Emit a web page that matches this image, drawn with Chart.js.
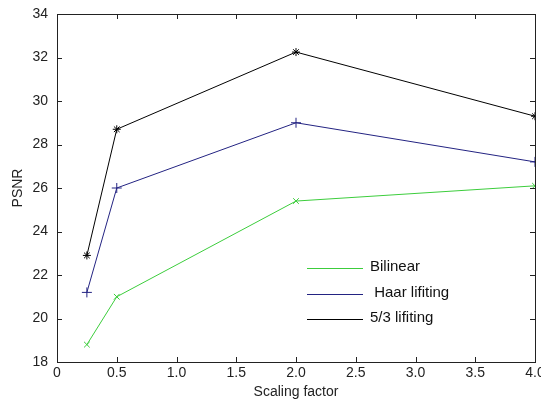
<!DOCTYPE html>
<html>
<head>
<meta charset="utf-8">
<script src="https://cdn.jsdelivr.net/npm/chart.js@4"></script>
<style>
  html, body { margin: 0; padding: 0; background: #fff; }
  #wrap { width: 541px; height: 404px; }
</style>
</head>
<body>
<div id="wrap"><canvas id="psnr-chart" width="541" height="404"></canvas></div>
<script>
// Chart values
const scalingFactors = [0.25, 0.5, 2, 4];
const bilinear = [18.8, 21.0, 25.4, 26.1];
const haarLifting = [21.2, 26.0, 29.0, 27.2];
const lifting53 = [22.9, 28.7, 32.25, 29.3];
const seriesLabels = ['Bilinear', ' Haar lifiting', '5/3 lifiting'];

const FONT = 'Liberation Sans, Arial, sans-serif';

function toPoints(values) {
  return values.map((v, i) => ({ x: scalingFactors[i], y: v }));
}

// Draws the box round the plot and MATLAB-style inward tick marks
const boxPlugin = {
  id: 'box',
  afterDatasetsDraw(chart) {
    const { ctx, chartArea: a, scales } = chart;
    const len = 5;
    ctx.save();
    ctx.strokeStyle = '#222';
    ctx.lineWidth = 1;
    ctx.beginPath();
    scales.x.ticks.forEach(t => {
      const px = Math.round(scales.x.getPixelForValue(t.value)) + 0.5;
      ctx.moveTo(px, a.bottom); ctx.lineTo(px, a.bottom - len);
      ctx.moveTo(px, a.top); ctx.lineTo(px, a.top + len);
    });
    scales.y.ticks.forEach(t => {
      const py = Math.round(scales.y.getPixelForValue(t.value)) + 0.5;
      ctx.moveTo(a.left, py); ctx.lineTo(a.left + len, py);
      ctx.moveTo(a.right, py); ctx.lineTo(a.right - len, py);
    });
    ctx.stroke();
    ctx.strokeRect(Math.round(a.left) + 0.5, Math.round(a.top) + 0.5,
      Math.round(a.right - a.left), Math.round(a.bottom - a.top));
    ctx.restore();
  }
};

// Legend without a frame, placed inside the plot like the original
const legendPlugin = {
  id: 'insideLegend',
  afterDraw(chart) {
    const { ctx, chartArea: a } = chart;
    const x0 = a.left + 250;
    const y0 = a.top + 254;
    const rowH = 25.5;
    ctx.save();
    ctx.font = '15px ' + FONT;
    ctx.textBaseline = 'middle';
    chart.data.datasets.forEach((ds, i) => {
      const y = Math.round(y0 + i * rowH) + 0.5;
      ctx.strokeStyle = ds.borderColor;
      ctx.lineWidth = 1;
      ctx.beginPath();
      ctx.moveTo(x0, y);
      ctx.lineTo(x0 + 56, y);
      ctx.stroke();
      ctx.fillStyle = '#111';
      ctx.fillText(ds.label, x0 + 63, y - 2);
    });
    ctx.restore();
  }
};

document.addEventListener('DOMContentLoaded', () => {
  const ctx = document.getElementById('psnr-chart').getContext('2d');
  new Chart(ctx, {
    type: 'line',
    data: {
      datasets: [
        {
          label: seriesLabels[0],
          data: toPoints(bilinear),
          borderColor: 'rgb(60, 205, 60)',
          backgroundColor: 'rgb(60, 205, 60)',
          pointStyle: 'crossRot',
          pointRadius: 4,
          pointBorderWidth: 1
        },
        {
          label: seriesLabels[1],
          data: toPoints(haarLifting),
          borderColor: 'rgb(35, 35, 130)',
          backgroundColor: 'rgb(35, 35, 130)',
          pointStyle: 'cross',
          pointRadius: 5,
          pointBorderWidth: 1
        },
        {
          label: seriesLabels[2],
          data: toPoints(lifting53),
          borderColor: '#000',
          backgroundColor: '#000',
          pointStyle: 'star',
          pointRadius: 4,
          pointBorderWidth: 1
        }
      ]
    },
    options: {
      responsive: false,
      animation: false,
      layout: { padding: { top: 14, right: 1, left: 0, bottom: 0 } },
      elements: { line: { borderWidth: 1, tension: 0 } },
      plugins: {
        legend: { display: false },
        tooltip: { enabled: false }
      },
      scales: {
        x: {
          type: 'linear',
          min: 0,
          max: 4,
          border: { display: false },
          grid: { display: false, drawTicks: false, tickLength: 0 },
          ticks: {
            stepSize: 0.5,
            padding: 3,
            maxRotation: 0,
            autoSkip: false,
            color: '#222',
            font: { family: FONT, size: 14 }
          },
          title: {
            display: true,
            text: 'Scaling factor',
            color: '#222',
            font: { family: FONT, size: 14 },
            padding: { top: 0, bottom: 3 }
          },
          afterFit(scale) {
            scale.height = 42;
            scale.paddingLeft = 0;
            scale.paddingRight = 0;
          }
        },
        y: {
          min: 18,
          max: 34,
          border: { display: false },
          grid: { display: false, drawTicks: false, tickLength: 0 },
          ticks: {
            stepSize: 2,
            padding: 9,
            color: '#222',
            font: { family: FONT, size: 14 }
          },
          title: {
            display: true,
            text: 'PSNR',
            color: '#222',
            font: { family: FONT, size: 14 },
            padding: { top: 10, bottom: 0 }
          },
          afterFit(scale) {
            scale.width = 57;
            scale.paddingTop = 0;
            scale.paddingBottom = 0;
          }
        }
      }
    },
    plugins: [boxPlugin, legendPlugin]
  });
});
</script>
</body>
</html>
